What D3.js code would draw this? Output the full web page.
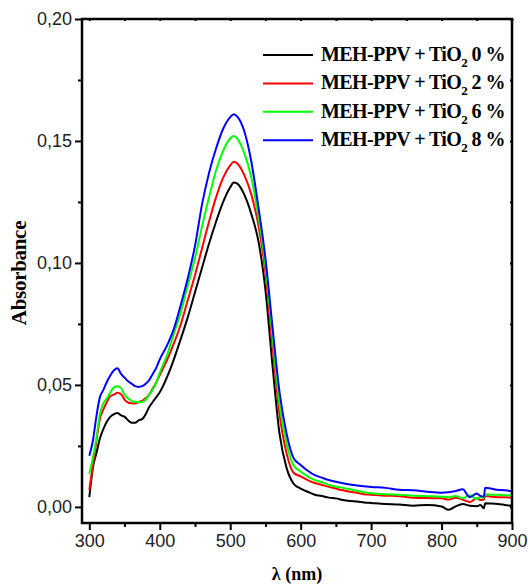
<!DOCTYPE html>
<html>
<head>
<meta charset="utf-8">
<script src="https://cdn.jsdelivr.net/npm/d3@7"></script>
<style>
  body { margin: 0; background: #fff; }
  svg { display: block; }
</style>
</head>
<body>
<div id="chart"></div>
<script>
// wavelength grid (nm) and absorbance
const wavelengths = [300, 305, 310, 315, 320, 325, 330, 335, 340, 345, 350, 355, 360, 365, 370, 375, 380, 385, 390, 395,
  400, 410, 420, 430, 440, 450, 460, 470, 480, 490, 500, 505, 510, 520, 530, 540, 550, 560, 570, 580, 590,
  600, 610, 620, 630, 640, 650, 660, 670, 680, 690, 700, 720, 740, 760, 780, 800, 810, 820, 830, 840, 850, 855, 860, 862,
  870, 880, 890, 900];

const abs0 = [0.004, 0.016, 0.022, 0.028, 0.032, 0.035, 0.037, 0.038, 0.0385, 0.0375, 0.037, 0.0355, 0.0345, 0.0345, 0.0355, 0.036, 0.038, 0.041, 0.043, 0.045,
  0.047, 0.053, 0.0605, 0.069, 0.078, 0.088, 0.098, 0.108, 0.117, 0.125, 0.131, 0.133, 0.1325, 0.128, 0.120, 0.109, 0.089, 0.058, 0.030, 0.016, 0.0095,
  0.0075, 0.0062, 0.005, 0.0045, 0.0038, 0.0035, 0.0028, 0.0024, 0.0022, 0.0018, 0.0016, 0.0012, 0.001, 0.0005, 0.0008, 0.0002, -0.0012, 0.0002, 0.0012, 0.0005, 0.0003, 0.0008, -0.0006, 0.0015,
  0.0014, 0.0012, 0.0008, 0.0004];

const abs2 = [0.007, 0.017, 0.027, 0.036, 0.040, 0.043, 0.0455, 0.046, 0.0468, 0.0462, 0.044, 0.0428, 0.0425, 0.0424, 0.043, 0.0435, 0.0445, 0.046, 0.0485, 0.051,
  0.054, 0.060, 0.067, 0.075, 0.085, 0.095, 0.106, 0.117, 0.127, 0.135, 0.140, 0.1415, 0.1408, 0.136, 0.128, 0.1155, 0.096, 0.066, 0.038, 0.022, 0.014,
  0.0125, 0.011, 0.0098, 0.009, 0.0082, 0.0075, 0.0068, 0.0062, 0.0058, 0.0052, 0.005, 0.0046, 0.0044, 0.0038, 0.0036, 0.0035, 0.003, 0.0038, 0.003, 0.002, 0.0035, 0.0028, 0.003, 0.0045,
  0.0042, 0.004, 0.004, 0.0038];

const abs6 = [0.0135, 0.020, 0.028, 0.038, 0.0425, 0.0445, 0.047, 0.049, 0.0495, 0.0488, 0.046, 0.0445, 0.0435, 0.043, 0.043, 0.043, 0.044, 0.046, 0.048, 0.051,
  0.055, 0.062, 0.071, 0.080, 0.091, 0.102, 0.115, 0.127, 0.138, 0.146, 0.151, 0.152, 0.151, 0.145, 0.135, 0.119, 0.099, 0.070, 0.042, 0.026, 0.017,
  0.0145, 0.0125, 0.011, 0.0102, 0.009, 0.0083, 0.0078, 0.0072, 0.0066, 0.006, 0.0056, 0.0052, 0.005, 0.0046, 0.0044, 0.0042, 0.004, 0.0045, 0.0035, 0.0048, 0.0032, 0.004, 0.0038, 0.0052,
  0.005, 0.005, 0.0048, 0.0048];

const abs8 = [0.021, 0.027, 0.037, 0.045, 0.048, 0.0513, 0.054, 0.056, 0.0568, 0.0545, 0.053, 0.0515, 0.0505, 0.0495, 0.0492, 0.0495, 0.0505, 0.052, 0.0545, 0.057,
  0.0605, 0.066, 0.073, 0.083, 0.094, 0.107, 0.124, 0.137, 0.147, 0.155, 0.1598, 0.161, 0.160, 0.154, 0.1415, 0.123, 0.102, 0.0738, 0.047, 0.030, 0.020,
  0.0172, 0.0148, 0.013, 0.012, 0.011, 0.0103, 0.0097, 0.0092, 0.0088, 0.0085, 0.0082, 0.0078, 0.007, 0.0068, 0.0062, 0.0058, 0.006, 0.0065, 0.0072, 0.004, 0.0055, 0.0045, 0.0042, 0.0078,
  0.0075, 0.007, 0.0068, 0.0063];

const seriesLabels = ["0 %", "2 %", "6 %", "8 %"];
const seriesColors = ["#000000", "#ff0000", "#00ff00", "#0000ff"];
const xTicks = [300, 400, 500, 600, 700, 800, 900];
const yTicks = [0, 0.05, 0.10, 0.15, 0.20];

const W = 528, H = 585;
const margin = { t: 19, r: 16, b: 62, l: 82 };

const svg = d3.select("#chart").append("svg")
  .attr("width", W)
  .attr("height", H);

const x = d3.scaleLinear().domain([289.6, 900]).range([margin.l, W - margin.r]);
const y = d3.scaleLinear().domain([-0.0066, 0.20]).range([H - margin.b, margin.t]);

const tickFont = "'Liberation Sans', Arial, sans-serif";
const titleFont = "'Liberation Serif', 'Times New Roman', serif";

// curves
const line = d3.line()
  .x((d) => x(d[0]))
  .y((d) => y(d[1]))
  .curve(d3.curveMonotoneX);

[abs0, abs2, abs6, abs8].forEach((vals, i) => {
  svg.append("path")
    .datum(wavelengths.map((w, j) => [w, vals[j]]))
    .attr("fill", "none")
    .attr("stroke", seriesColors[i])
    .attr("stroke-width", 2)
    .attr("stroke-linejoin", "round")
    .attr("d", line);
});

// axes
const fmt = (d) => d3.format(".2f")(d).replace(".", ",");

svg.append("g")
  .attr("transform", `translate(0, ${H - margin.b})`)
  .call(d3.axisBottom(x).tickValues(xTicks).tickSize(7).tickPadding(4));
svg.append("g")
  .attr("transform", `translate(0, ${H - margin.b})`)
  .call(d3.axisBottom(x).tickValues(d3.range(350, 900, 100)).tickSize(4).tickFormat(""));

svg.append("g")
  .attr("transform", `translate(${margin.l}, 0)`)
  .call(d3.axisLeft(y).tickValues(yTicks).tickSize(7).tickPadding(3).tickFormat(fmt));
svg.append("g")
  .attr("transform", `translate(${margin.l}, 0)`)
  .call(d3.axisLeft(y).tickValues([0.025, 0.075, 0.125, 0.175]).tickSize(4).tickFormat(""));

// inner ticks on top and right
svg.append("g")
  .attr("transform", `translate(0, ${margin.t})`)
  .call(d3.axisBottom(x).tickValues(d3.range(300, 901, 50)).tickSize(2).tickFormat(""));
svg.append("g")
  .attr("transform", `translate(${W - margin.r}, 0)`)
  .call(d3.axisLeft(y).tickValues(d3.range(0, 0.2001, 0.025)).tickSize(2).tickFormat(""));

svg.selectAll(".domain").remove();
svg.selectAll(".tick line").attr("stroke", "#000").attr("stroke-width", 2);
svg.selectAll(".tick text")
  .attr("fill", "#222")
  .style("font-family", tickFont)
  .style("font-size", "18px");

// frame
svg.append("rect")
  .attr("x", margin.l)
  .attr("y", margin.t)
  .attr("width", W - margin.r - margin.l)
  .attr("height", H - margin.b - margin.t)
  .attr("fill", "none")
  .attr("stroke", "#000")
  .attr("stroke-width", 2.5);

// axis titles
svg.append("text")
  .attr("x", (margin.l + W - margin.r) / 2)
  .attr("y", 580)
  .attr("text-anchor", "middle")
  .style("font-family", titleFont)
  .style("font-weight", "bold")
  .style("font-size", "18px")
  .text("λ (nm)");

svg.append("text")
  .attr("transform", `translate(26, ${(margin.t + H - margin.b) / 2 + 2}) rotate(-90)`)
  .attr("text-anchor", "middle")
  .style("font-family", titleFont)
  .style("font-weight", "bold")
  .style("font-size", "21px")
  .style("letter-spacing", "-0.3px")
  .text("Absorbance");

// legend
const legend = svg.append("g");
seriesLabels.forEach((lab, i) => {
  const ly = 55 + i * 28.4;
  legend.append("line")
    .attr("x1", 263).attr("x2", 313)
    .attr("y1", ly).attr("y2", ly)
    .attr("stroke", seriesColors[i])
    .attr("stroke-width", 2);
  const t = legend.append("text")
    .attr("x", 321)
    .attr("y", ly + 6)
    .style("font-family", titleFont)
    .style("font-weight", "bold")
    .style("font-size", "20px")
    .style("letter-spacing", "-0.6px");
  t.append("tspan").text("MEH-PPV + TiO");
  t.append("tspan").attr("dy", 6).style("font-size", "13px").text("2");
  t.append("tspan").attr("dy", -6).text(" " + lab);
});
</script>
</body>
</html>
